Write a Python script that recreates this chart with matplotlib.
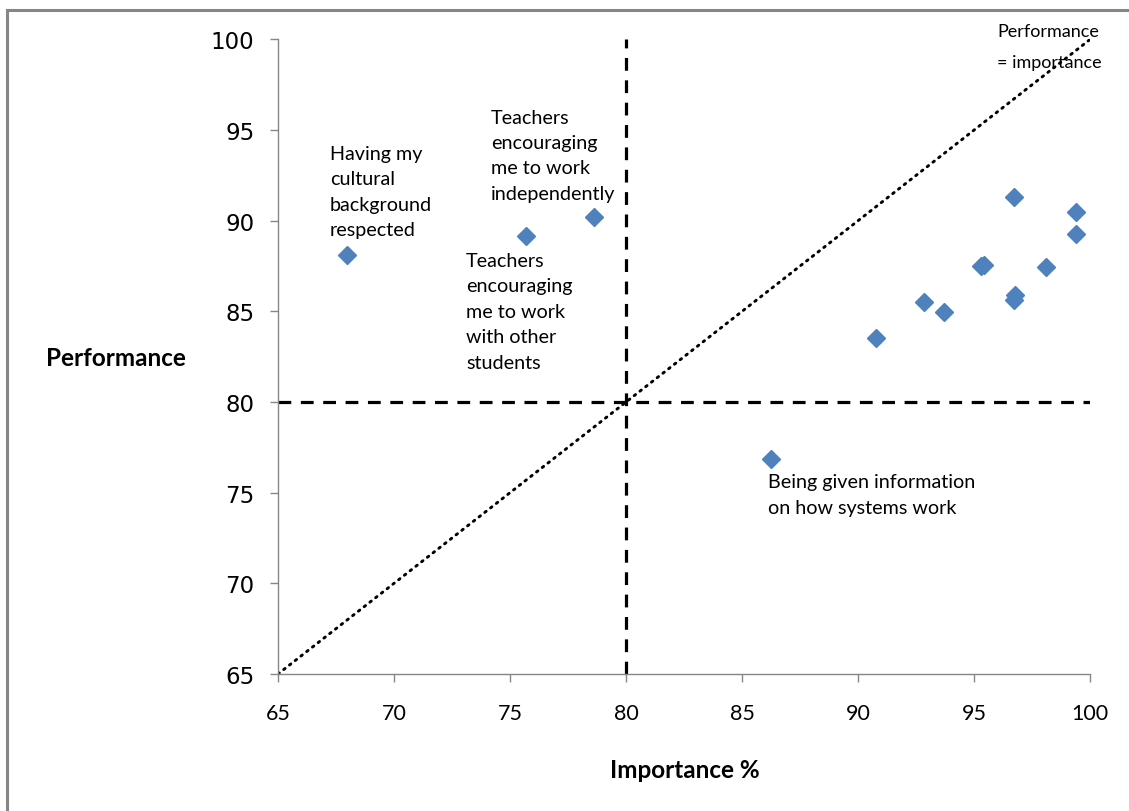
import matplotlib
matplotlib.use("Agg")
from matplotlib import pyplot as plt
from matplotlib.lines import Line2D

# importance (%) vs performance for each survey item
importance = [67.96, 75.69, 78.61, 86.24, 90.76, 92.86, 93.69, 95.3, 95.45,
              96.72, 96.77, 96.72, 98.12, 99.38, 99.38]
performance = [88.12, 89.14, 90.20, 76.84, 83.53, 85.53, 84.95, 87.52, 87.58,
               85.64, 85.90, 91.32, 87.43, 90.46, 89.27]

labels = [
    ("Having my\ncultural\nbackground\nrespected", 67.24, 94.18),
    ("Teachers\nencouraging\nme to work\nindependently", 74.18, 96.18),
    ("Teachers\nencouraging\nme to work\nwith other\nstudents", 73.10, 88.28),
    ("Being given information\non how systems work", 86.12, 76.08),
]

ticks = [65, 70, 75, 80, 85, 90, 95, 100]
gray = '#868686'
blue = '#4F81BD'

fig = plt.figure(figsize=(11.29, 8.12), dpi=100)
ax = fig.add_axes([0.2462, 0.1687, 0.9655 - 0.2462, 0.9502 - 0.1687])

# performance = importance diagonal
ax.plot([65, 100], [65, 100], color='black', lw=2.1,
        linestyle=(0, (0.6, 1.9)), dash_capstyle='round', zorder=2)
# threshold lines at 80
ax.plot([80, 80], [65, 100], color='black', lw=2.3, linestyle=(0, (4, 3)), zorder=2)
ax.plot([65, 100], [80, 80], color='black', lw=2.3, linestyle=(0, (4, 3)), zorder=2)

ax.plot(importance, performance, linestyle='none', marker='D', ms=9.5,
        color=blue, markeredgecolor=blue, zorder=3)

for txt, x, y in labels:
    ax.text(x, y, txt, fontsize=14.2, family='Lato', va='top', ha='left',
            linespacing=1.6, color='black')

ax.text(96.0, 100.46, 'Performance', fontsize=13, family='Lato',
        va='center', ha='left', clip_on=False)
ax.text(96.0, 98.75, '= importance', fontsize=13, family='Lato',
        va='center', ha='left', clip_on=False)

ax.set_xlim(65, 100)
ax.set_ylim(65, 100)
ax.set_xticks(ticks)
ax.set_yticks(ticks)
for side in ['top', 'right']:
    ax.spines[side].set_visible(False)
for side in ['left', 'bottom']:
    ax.spines[side].set_color(gray)
    ax.spines[side].set_linewidth(1.0)
ax.tick_params(axis='both', direction='out', length=6, width=1, color=gray)
ax.tick_params(axis='y', pad=11, labelsize=16.5)
ax.tick_params(axis='x', pad=15, labelsize=15.5)
for lab in ax.get_xticklabels():
    lab.set_family('Lato')

fig.text(0.1027, 0.558, 'Performance', fontsize=17.5, fontweight='bold',
         family='Lato', ha='center', va='center')
fig.text(0.6067, 0.0517, 'Importance %', fontsize=17.5, fontweight='bold',
         family='Lato', ha='center', va='center')

# outer chart border (top and left)
fig.add_artist(Line2D([0.006, 0.006], [0.0, 0.987], color=gray, lw=2.2))
fig.add_artist(Line2D([0.006, 1.0], [0.987, 0.987], color=gray, lw=2.2))

fig.savefig('out.png', dpi=100)
